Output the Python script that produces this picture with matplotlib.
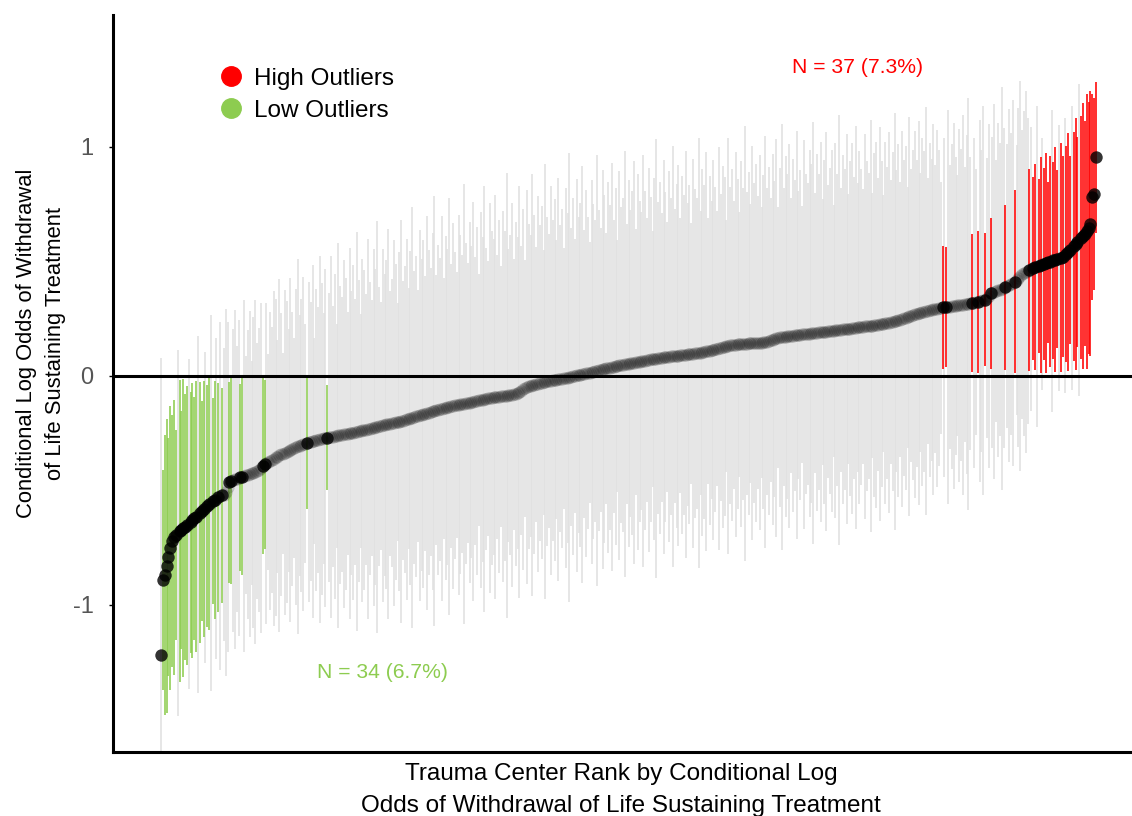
import numpy as np
import matplotlib
matplotlib.use("Agg")
import matplotlib.pyplot as plt
from matplotlib.lines import Line2D

plt.rcParams['font.family'] = ['Liberation Sans', 'DejaVu Sans']

# ---- data: conditional log odds (sorted) and CI half-widths per trauma center ----
estimate = [
    -1.220, -0.890, -0.870, -0.830, -0.790, -0.750, -0.720, -0.705, -0.695, -0.685,
    -0.678, -0.671, -0.665, -0.659, -0.652, -0.645, -0.638, -0.630, -0.622, -0.614,
    -0.606, -0.598, -0.590, -0.582, -0.575, -0.568, -0.561, -0.554, -0.547, -0.540,
    -0.535, -0.530, -0.526, -0.522, -0.518, -0.508, -0.485, -0.465, -0.460, -0.456,
    -0.452, -0.449, -0.446, -0.443, -0.440, -0.437, -0.434, -0.431, -0.428, -0.425,
    -0.422, -0.419, -0.415, -0.411, -0.401, -0.392, -0.386, -0.381, -0.376, -0.371,
    -0.366, -0.361, -0.356, -0.352, -0.347, -0.343, -0.339, -0.335, -0.331, -0.327,
    -0.323, -0.319, -0.316, -0.312, -0.308, -0.305, -0.302, -0.298, -0.295, -0.292,
    -0.289, -0.287, -0.285, -0.283, -0.281, -0.279, -0.277, -0.275, -0.273, -0.271,
    -0.270, -0.268, -0.266, -0.265, -0.263, -0.262, -0.260, -0.258, -0.257, -0.255,
    -0.253, -0.252, -0.250, -0.248, -0.247, -0.245, -0.243, -0.241, -0.240, -0.238,
    -0.236, -0.234, -0.232, -0.230, -0.228, -0.226, -0.224, -0.222, -0.220, -0.218,
    -0.216, -0.214, -0.212, -0.210, -0.208, -0.206, -0.205, -0.203, -0.201, -0.200,
    -0.197, -0.195, -0.192, -0.190, -0.187, -0.185, -0.182, -0.180, -0.177, -0.175,
    -0.172, -0.170, -0.167, -0.165, -0.162, -0.160, -0.157, -0.155, -0.153, -0.150,
    -0.148, -0.146, -0.143, -0.141, -0.139, -0.137, -0.135, -0.133, -0.131, -0.129,
    -0.128, -0.126, -0.124, -0.122, -0.121, -0.120, -0.118, -0.116, -0.114, -0.112,
    -0.110, -0.108, -0.107, -0.105, -0.103, -0.101, -0.100, -0.098, -0.096, -0.095,
    -0.093, -0.092, -0.091, -0.090, -0.089, -0.088, -0.087, -0.086, -0.085, -0.084,
    -0.083, -0.081, -0.078, -0.074, -0.069, -0.064, -0.059, -0.054, -0.050, -0.046,
    -0.043, -0.040, -0.038, -0.036, -0.034, -0.032, -0.030, -0.028, -0.026, -0.024,
    -0.022, -0.021, -0.019, -0.018, -0.016, -0.015, -0.013, -0.012, -0.011, -0.010,
    -0.008, -0.006, -0.004, -0.002, 0.000, 0.002, 0.003, 0.005, 0.007, 0.009,
    0.011, 0.013, 0.015, 0.017, 0.019, 0.021, 0.023, 0.025, 0.027, 0.029,
    0.031, 0.033, 0.035, 0.036, 0.038, 0.040, 0.042, 0.044, 0.046, 0.048,
    0.049, 0.051, 0.052, 0.054, 0.055, 0.057, 0.058, 0.060, 0.061, 0.063,
    0.064, 0.066, 0.067, 0.069, 0.070, 0.072, 0.073, 0.075, 0.076, 0.078,
    0.079, 0.080, 0.081, 0.082, 0.083, 0.084, 0.085, 0.086, 0.087, 0.088,
    0.089, 0.090, 0.091, 0.092, 0.093, 0.094, 0.095, 0.096, 0.097, 0.098,
    0.099, 0.100, 0.101, 0.103, 0.105, 0.107, 0.109, 0.111, 0.113, 0.115,
    0.117, 0.119, 0.121, 0.123, 0.125, 0.127, 0.129, 0.131, 0.133, 0.135,
    0.136, 0.137, 0.138, 0.138, 0.139, 0.140, 0.140, 0.141, 0.142, 0.142,
    0.143, 0.144, 0.144, 0.145, 0.146, 0.146, 0.147, 0.148, 0.150, 0.153,
    0.156, 0.159, 0.162, 0.165, 0.167, 0.169, 0.170, 0.171, 0.172, 0.173,
    0.174, 0.175, 0.176, 0.177, 0.178, 0.179, 0.180, 0.181, 0.182, 0.183,
    0.184, 0.185, 0.186, 0.187, 0.188, 0.189, 0.190, 0.191, 0.192, 0.193,
    0.194, 0.195, 0.196, 0.197, 0.198, 0.199, 0.200, 0.201, 0.202, 0.203,
    0.204, 0.205, 0.206, 0.207, 0.208, 0.209, 0.211, 0.212, 0.213, 0.214,
    0.215, 0.216, 0.217, 0.218, 0.219, 0.220, 0.222, 0.223, 0.224, 0.226,
    0.227, 0.228, 0.230, 0.231, 0.233, 0.234, 0.236, 0.238, 0.240, 0.243,
    0.245, 0.248, 0.251, 0.254, 0.257, 0.260, 0.263, 0.266, 0.269, 0.272,
    0.275, 0.277, 0.279, 0.281, 0.283, 0.285, 0.287, 0.289, 0.291, 0.292,
    0.294, 0.296, 0.298, 0.299, 0.300, 0.301, 0.302, 0.303, 0.304, 0.305,
    0.306, 0.308, 0.309, 0.310, 0.311, 0.313, 0.314, 0.315, 0.317, 0.318,
    0.320, 0.322, 0.324, 0.326, 0.328, 0.330, 0.333, 0.340, 0.350, 0.360,
    0.364, 0.368, 0.371, 0.374, 0.377, 0.380, 0.384, 0.388, 0.392, 0.396,
    0.400, 0.405, 0.412, 0.420, 0.428, 0.436, 0.443, 0.449, 0.454, 0.458,
    0.462, 0.466, 0.470, 0.474, 0.478, 0.481, 0.484, 0.487, 0.490, 0.493,
    0.496, 0.499, 0.502, 0.505, 0.508, 0.511, 0.514, 0.517, 0.521, 0.526,
    0.532, 0.540, 0.549, 0.558, 0.567, 0.576, 0.585, 0.594, 0.603, 0.612,
    0.621, 0.632, 0.645, 0.665, 0.780, 0.795, 0.955,
]

half_width = [
    1.30, 0.48, 0.61, 0.64, 0.52, 0.62, 0.55, 0.60, 0.46, 0.80,
    0.66, 0.52, 0.65, 0.58, 0.61, 0.72, 0.57, 0.60, 0.53, 0.59,
    0.78, 0.57, 0.48, 0.56, 0.68, 0.53, 0.55, 0.82, 0.45, 0.52,
    0.70, 0.50, 0.76, 0.47, 0.64, 0.80, 0.72, 0.44, 0.45, 0.66,
    0.74, 0.58, 0.69, 0.41, 0.43, 0.77, 0.52, 0.63, 0.71, 0.49,
    0.68, 0.75, 0.56, 0.62, 0.72, 0.385, 0.37, 0.70, 0.47, 0.65,
    0.58, 0.73, 0.69, 0.51, 0.77, 0.62, 0.44, 0.71, 0.66, 0.53,
    0.75, 0.60, 0.48, 0.69, 0.82, 0.57, 0.64, 0.73, 0.52, 0.29,
    0.70, 0.61, 0.77, 0.45, 0.66, 0.58, 0.80, 0.68, 0.55, 0.74,
    0.23, 0.63, 0.79, 0.57, 0.71, 0.49, 0.84, 0.65, 0.60, 0.76,
    0.68, 0.53, 0.81, 0.62, 0.73, 0.58, 0.87, 0.66, 0.51, 0.75,
    0.70, 0.59, 0.83, 0.64, 0.56, 0.78, 0.69, 0.90, 0.61, 0.54,
    0.77, 0.66, 0.72, 0.85, 0.58, 0.63, 0.80, 0.69, 0.52, 0.74,
    0.88, 0.61, 0.67, 0.79, 0.57, 0.73, 0.92, 0.64, 0.70, 0.55,
    0.81, 0.68, 0.76, 0.60, 0.86, 0.71, 0.63, 0.78, 0.94, 0.59,
    0.72, 0.66, 0.84, 0.57, 0.75, 0.69, 0.91, 0.62, 0.80, 0.67,
    0.58, 0.83, 0.74, 0.65, 0.96, 0.70, 0.61, 0.79, 0.68, 0.87,
    0.63, 0.76, 0.55, 0.82, 0.71, 0.93, 0.66, 0.60, 0.85, 0.73,
    0.69, 0.88, 0.62, 0.77, 0.57, 0.81, 0.72, 0.97, 0.64, 0.70,
    0.84, 0.59, 0.75, 0.68, 0.90, 0.63, 0.79, 0.56, 0.86, 0.71,
    0.66, 0.92, 0.74, 0.60, 0.82, 0.69, 0.77, 0.58, 0.95, 0.72,
    0.64, 0.85, 0.70, 0.79, 0.61, 0.88, 0.67, 0.74, 0.57, 0.83,
    0.72, 0.98, 0.65, 0.78, 0.60, 0.86, 0.69, 0.75, 0.91, 0.63,
    0.80, 0.68, 0.57, 0.84, 0.73, 0.66, 0.94, 0.70, 0.62, 0.87,
    0.76, 0.59, 0.81, 0.71, 0.89, 0.64, 0.78, 0.55, 0.85, 0.69,
    0.73, 0.93, 0.61, 0.80, 0.67, 0.75, 0.88, 0.58, 0.82, 0.70,
    0.65, 0.90, 0.74, 0.62, 0.84, 0.71, 0.56, 0.79, 0.96, 0.68,
    0.77, 0.63, 0.86, 0.72, 0.59, 0.81, 0.69, 0.92, 0.64, 0.75,
    0.83, 0.60, 0.78, 0.70, 0.89, 0.66, 0.74, 0.57, 0.85, 0.72,
    0.68, 0.94, 0.62, 0.80, 0.73, 0.87, 0.58, 0.76, 0.65, 0.83,
    0.71, 0.60, 0.88, 0.67, 0.79, 0.74, 0.55, 0.91, 0.69, 0.77,
    0.63, 0.84, 0.72, 0.58, 0.80, 0.68, 0.95, 0.66, 0.75, 0.61,
    0.86, 0.70, 0.78, 0.64, 0.82, 0.59, 0.73, 0.90, 0.67, 0.76,
    0.62, 0.81, 0.69, 0.87, 0.57, 0.74, 0.93, 0.65, 0.79, 0.71,
    0.84, 0.60, 0.77, 0.68, 0.89, 0.63, 0.72, 0.56, 0.85, 0.70,
    0.66, 0.80, 0.74, 0.92, 0.61, 0.78, 0.69, 0.83, 0.58, 0.75,
    0.87, 0.64, 0.71, 0.79, 0.55, 0.82, 0.68, 0.94, 0.62, 0.76,
    0.70, 0.85, 0.59, 0.73, 0.81, 0.66, 0.88, 0.63, 0.77, 0.69,
    0.60, 0.84, 0.72, 0.67, 0.90, 0.58, 0.75, 0.80, 0.64, 0.86,
    0.71, 0.56, 0.79, 0.68, 0.83, 0.62, 0.74, 0.91, 0.66, 0.77,
    0.60, 0.82, 0.69, 0.75, 0.57, 0.87, 0.64, 0.72, 0.80, 0.67,
    0.84, 0.61, 0.76, 0.70, 0.89, 0.58, 0.73, 0.66, 0.81, 0.63,
    0.78, 0.69, 0.55, 0.27, 0.74, 0.26, 0.86, 0.62, 0.71, 0.80,
    0.65, 0.57, 0.77, 0.68, 0.83, 0.60, 0.74, 0.90, 0.64, 0.30,
    0.72, 0.58, 0.31, 0.79, 0.66, 0.85, 0.29, 0.61, 0.75, 0.33,
    0.68, 0.82, 0.57, 0.73, 0.64, 0.88, 0.70, 0.36, 0.62, 0.77,
    0.66, 0.80, 0.40, 0.59, 0.74, 0.85, 0.63, 0.71, 0.79, 0.67,
    0.44, 0.62, 0.40, 0.45, 0.70, 0.38, 0.47, 0.55, 0.42, 0.48,
    0.35, 0.46, 0.66, 0.43, 0.49, 0.39, 0.58, 0.50, 0.44, 0.60,
    0.47, 0.52, 0.41, 0.62, 0.50, 0.55, 0.46, 0.68, 0.53, 0.58,
    0.49, 0.60, 0.55, 0.58, 0.45, 0.42, 0.33,
]

# ranks whose point is drawn solid although its interval is grey (the lowest center)
solid_point_ranks = [1]

legend_labels = ["High Outliers", "Low Outliers"]
high_note = "N = 37 (7.3%)"
low_note = "N = 34 (6.7%)"
y_ticks = [-1, 0, 1]

RED = "#ff0000"
GREEN = "#8dcc50"
GRAY = "#e0e0e0"

est = np.array(estimate)
hw = np.array(half_width)
assert len(est) == len(hw) == 507, (len(est), len(hw))
rank = np.arange(1, len(est) + 1)
lower = est - hw
upper = est + hw
low = upper < 0
high = lower > 0
norm = ~(low | high)
assert low.sum() == 34 and high.sum() == 37, (low.sum(), high.sum())

solid = low | high | np.isin(rank, solid_point_ranks)

fig = plt.figure(figsize=(11.32, 8.16), dpi=100)
ax = fig.add_axes([113 / 1132, 64 / 816, 1019 / 1132, 737 / 816])

ax.vlines(rank[norm], lower[norm], upper[norm], color=GRAY, lw=1.15, zorder=1)
ax.vlines(rank[low], lower[low], upper[low], color=GREEN, lw=1.15, zorder=2)
ax.vlines(rank[high], lower[high], upper[high], color=RED, lw=1.15, zorder=2)
ax.axhline(0, color="black", lw=2.2, zorder=3)
ax.scatter(rank[~solid], est[~solid], s=80, color="black", alpha=0.16, lw=0, zorder=4)
ax.scatter(rank[solid], est[solid], s=80, color="black", alpha=0.8, lw=0, zorder=5)

ax.set_xlim(-25, 526.5)
ax.set_ylim(-1.642, 1.576)
ax.set_xticks([])
ax.set_yticks(y_ticks)
ax.set_yticklabels([str(t) for t in y_ticks])
ax.tick_params(axis="y", length=3, width=1, labelsize=17, labelcolor="#555555", pad=11)
for s in ["top", "right"]:
    ax.spines[s].set_visible(False)
for s in ["left", "bottom"]:
    ax.spines[s].set_linewidth(2.2)

ax.text(378, 1.345, high_note, color=RED, fontsize=15.2, ha="center", va="center")
ax.text(121, -1.297, low_note, color=GREEN, fontsize=15.2, ha="center", va="center")

handles = [
    Line2D([], [], marker="o", ls="none", color=RED, markersize=14),
    Line2D([], [], marker="o", ls="none", color=GREEN, markersize=14),
]
ax.legend(handles, legend_labels, loc="upper left", bbox_to_anchor=(0.092, 0.945),
          frameon=False, fontsize=17.5, handlelength=1.0, handletextpad=0.45,
          labelspacing=0.42, borderpad=0)

fig.text(41 / 1132, 1 - 343 / 816,
         "Conditional Log Odds of Withdrawal\nof Life Sustaining Treatment",
         rotation=90, ha="center", va="center", fontsize=15.8, linespacing=1.5)
fig.text(621 / 1132, 1 - 790 / 816,
         "Trauma Center Rank by Conditional Log\nOdds of Withdrawal of Life Sustaining Treatment",
         ha="center", va="center", fontsize=17.5, linespacing=1.55)

fig.savefig("out.png", dpi=100)
